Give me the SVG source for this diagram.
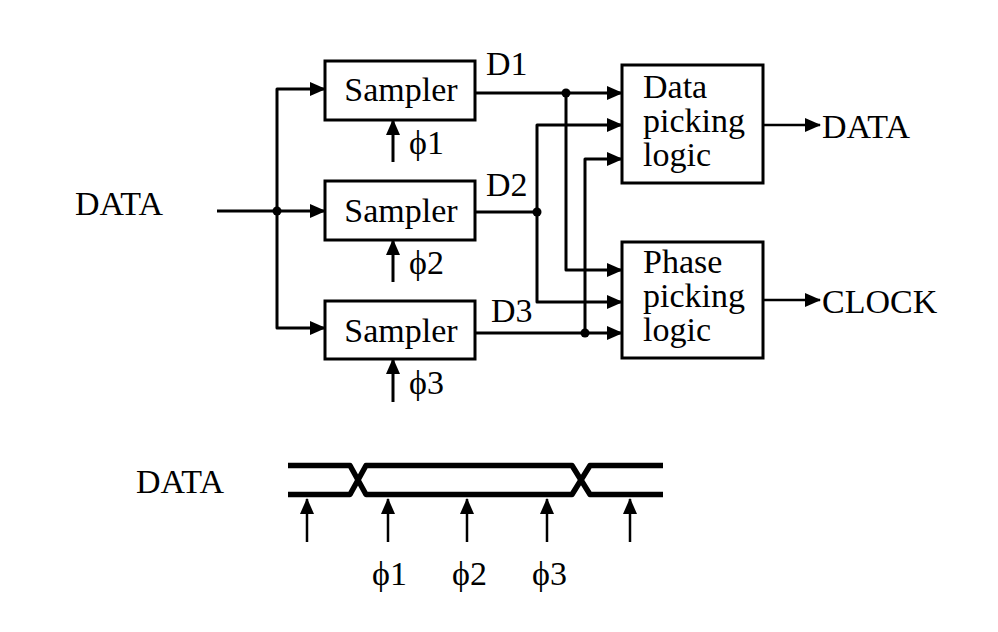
<svg xmlns="http://www.w3.org/2000/svg" width="998" height="632" viewBox="0 0 998 632">
<defs>
<marker id="ah" markerUnits="userSpaceOnUse" markerWidth="18" markerHeight="16" refX="15" refY="7" orient="auto">
<path d="M0,0 L16,7 L0,14 z" fill="#000"/>
</marker>
<style>
text{font-family:"Liberation Serif","Times New Roman",serif;font-size:34px;fill:#000}
.box{fill:#fff;stroke:#000;stroke-width:3}
.w{fill:none;stroke:#000;stroke-width:3;stroke-linejoin:round}
.a{marker-end:url(#ah)}
.thin{fill:none;stroke:#000;stroke-width:2.5}
.bus{fill:none;stroke:#000;stroke-width:5.5;stroke-linejoin:round}
.dot{fill:#000}
</style>
</defs>
<rect width="998" height="632" fill="#fff"/>

<g id="connectors">
<path class="w a" d="M217,211 H325"/>
<path class="w a" d="M277,211 V89 H325"/>
<path class="w a" d="M277,211 V328 H325"/>
<path class="w a" d="M393,162 V120"/>
<path class="w a" d="M393,282 V240"/>
<path class="w a" d="M393,402 V359"/>
<path class="w a" d="M475,93 H622"/>
<path class="w a" d="M566,93 V270 H622"/>
<path class="w" d="M475,212 H537"/>
<path class="w a" d="M537,212 V125 H622"/>
<path class="w a" d="M537,212 V302 H622"/>
<path class="w a" d="M475,333 H622"/>
<path class="w a" d="M585,333 V159 H622"/>
<path class="thin a" d="M763,125 H820"/>
<path class="thin a" d="M763,300 H820"/>
<circle class="dot" cx="277" cy="211" r="4.5"/>
<circle class="dot" cx="566" cy="93" r="4.5"/>
<circle class="dot" cx="537" cy="212" r="4.5"/>
<circle class="dot" cx="585" cy="333" r="4.5"/>
</g>

<g id="data-in"><text x="75" y="215">DATA</text></g>

<g id="sampler1">
<rect class="box" x="325" y="61" width="150" height="59"/>
<text x="401" y="101" text-anchor="middle">Sampler</text>
</g>
<g id="sampler2">
<rect class="box" x="325" y="181" width="150" height="59"/>
<text x="401" y="222" text-anchor="middle">Sampler</text>
</g>
<g id="sampler3">
<rect class="box" x="325" y="301" width="150" height="58"/>
<text x="401" y="342" text-anchor="middle">Sampler</text>
</g>

<g id="phase-labels">
<text x="409" y="154">ϕ1</text>
<text x="409" y="274">ϕ2</text>
<text x="409" y="394">ϕ3</text>
</g>

<g id="d-labels">
<text x="486" y="75">D1</text>
<text x="486" y="196">D2</text>
<text x="491" y="322">D3</text>
</g>

<g id="data-picking">
<rect class="box" x="622" y="65" width="141" height="118"/>
<text x="643" y="98">Data</text>
<text x="643" y="132">picking</text>
<text x="643" y="166">logic</text>
</g>
<g id="phase-picking">
<rect class="box" x="622" y="242" width="141" height="116"/>
<text x="643" y="273">Phase</text>
<text x="643" y="307">picking</text>
<text x="643" y="341">logic</text>
</g>

<g id="outputs">
<text x="822" y="138">DATA</text>
<text x="822" y="313">CLOCK</text>
</g>

<g id="timing">
<text x="136" y="493">DATA</text>
<path class="bus" d="M288,494.5 H350 L366,465.5 H572 L590,494.5 H663"/>
<path class="bus" d="M288,465.5 H350 L366,494.5 H572 L590,465.5 H663"/>
<path class="thin a" d="M307,542 V499"/>
<path class="thin a" d="M388,542 V499"/>
<path class="thin a" d="M467,542 V499"/>
<path class="thin a" d="M547,542 V499"/>
<path class="thin a" d="M630,542 V499"/>
<text x="372" y="585" font-size="31">ϕ1</text>
<text x="452" y="585" font-size="31">ϕ2</text>
<text x="532" y="585" font-size="31">ϕ3</text>
</g>
</svg>
